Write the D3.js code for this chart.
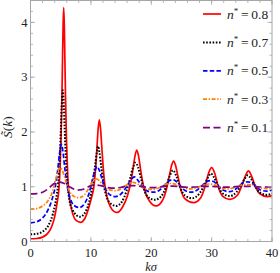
<!DOCTYPE html>
<html>
<head>
<meta charset="utf-8">
<script src="https://cdn.jsdelivr.net/npm/d3@7"></script>
<style>
  body { margin: 0; background: #fff; }
  svg { display: block; }
  text { font-family: "Liberation Serif", "Times New Roman", "DejaVu Serif", serif; }
</style>
</head>
<body>
<div id="chart"></div>
<script>
var width = 280;
var height = 273;
var plotLeft = 30.5, plotRight = 272, plotTop = 0.5, plotBottom = 241.5;

// series (k sigma, S(k))
var k08 = [0, 1, 2, 3, 3.5, 4, 4.4, 4.7, 4.9, 5.05, 5.2, 5.3, 5.4, 5.5, 5.6, 5.7, 5.8, 5.95, 6.1, 6.3, 6.6, 7, 7.6, 8.3, 9, 9.6, 10.1, 10.5, 10.8, 11, 11.2, 11.4, 11.6, 11.8, 12, 12.3, 12.7, 13.2, 13.8, 14.4, 15.2, 16.1, 16.6, 17, 17.3, 17.6, 17.9, 18.2, 18.6, 19.1, 19.7, 20.8, 21.8, 22.5, 23, 23.4, 23.7, 24, 24.4, 24.9, 25.6, 27, 28.2, 28.9, 29.5, 30, 30.5, 31.1, 31.8, 33, 34.3, 35, 35.6, 36.1, 36.6, 37.2, 37.9, 39.2, 40];
var s08 = [0.05, 0.055, 0.08, 0.17, 0.27, 0.45, 0.7, 0.95, 1.35, 1.85, 2.6, 3.3, 3.95, 4.27, 3.95, 3.3, 2.65, 1.9, 1.4, 0.95, 0.7, 0.5, 0.38, 0.35, 0.42, 0.6, 0.8, 1.0, 1.35, 1.7, 2.05, 2.22, 2.06, 1.74, 1.42, 1.05, 0.8, 0.64, 0.55, 0.53, 0.62, 0.85, 1.07, 1.34, 1.56, 1.67, 1.56, 1.34, 1.07, 0.87, 0.74, 0.65, 0.74, 0.95, 1.2, 1.4, 1.47, 1.4, 1.2, 0.95, 0.78, 0.71, 0.8, 1.0, 1.25, 1.35, 1.25, 1.0, 0.83, 0.77, 0.85, 1.02, 1.2, 1.29, 1.2, 1.02, 0.88, 0.82, 0.84];

var k07 = [0, 1, 2, 3, 3.7, 4.2, 4.6, 4.85, 5.05, 5.2, 5.35, 5.5, 5.65, 5.85, 6.1, 6.45, 6.95, 7.6, 8.2, 9, 9.7, 10.3, 10.7, 11, 11.2, 11.4, 11.7, 12.1, 12.6, 13.3, 14.2, 15.1, 15.9, 16.5, 17, 17.4, 17.8, 18.3, 18.9, 19.6, 20.6, 21.6, 22.4, 23, 23.6, 24.2, 24.8, 25.6, 26.8, 28, 28.8, 29.4, 29.9, 30.4, 31, 31.8, 33, 34.1, 34.9, 35.5, 36, 36.5, 37.1, 37.9, 39.2, 40];
var s07 = [0.13, 0.14, 0.18, 0.3, 0.5, 0.75, 1.09, 1.53, 2.1, 2.55, 2.76, 2.55, 2.1, 1.53, 1.09, 0.75, 0.58, 0.48, 0.45, 0.52, 0.72, 1.05, 1.38, 1.64, 1.74, 1.64, 1.38, 1.05, 0.82, 0.69, 0.65, 0.72, 0.92, 1.15, 1.36, 1.44, 1.36, 1.15, 0.92, 0.8, 0.76, 0.82, 0.98, 1.18, 1.3, 1.18, 0.98, 0.84, 0.79, 0.88, 1.03, 1.17, 1.24, 1.17, 1.03, 0.88, 0.83, 0.9, 1.03, 1.15, 1.21, 1.15, 1.03, 0.9, 0.85, 0.88];

var k05 = [0, 1, 2, 3, 3.6, 4.1, 4.5, 4.8, 5.1, 5.4, 5.7, 6.1, 6.6, 7.2, 8.1, 9, 9.7, 10.3, 10.7, 11, 11.4, 11.9, 12.5, 13.2, 14.1, 15, 15.8, 16.5, 17.2, 17.9, 18.6, 19.4, 20.4, 21.4, 22.2, 22.9, 23.5, 24.1, 24.8, 25.6, 26.6, 27.6, 28.5, 29.2, 29.8, 30.4, 31.1, 31.9, 32.9, 33.9, 34.7, 35.4, 36, 36.6, 37.3, 38.1, 39.1, 40];
var s05 = [0.34, 0.36, 0.43, 0.6, 0.78, 1.0, 1.3, 1.6, 1.78, 1.62, 1.32, 1.0, 0.78, 0.66, 0.62, 0.7, 0.88, 1.15, 1.3, 1.37, 1.3, 1.12, 0.95, 0.85, 0.82, 0.87, 0.98, 1.1, 1.18, 1.1, 0.99, 0.92, 0.9, 0.94, 1.03, 1.1, 1.13, 1.1, 1.02, 0.93, 0.9, 0.94, 1.03, 1.09, 1.11, 1.09, 1.02, 0.94, 0.91, 0.95, 1.03, 1.08, 1.09, 1.07, 1.01, 0.94, 0.92, 0.94];

var k03 = [0, 1, 2, 3, 3.6, 4.1, 4.5, 4.9, 5.3, 5.8, 6.4, 7.1, 8, 8.9, 9.7, 10.3, 10.8, 11.4, 12.1, 12.9, 14, 15, 15.9, 16.5, 17, 17.6, 18.4, 19.2, 20.2, 21.3, 22.3, 23.3, 24.2, 25.2, 26.4, 27.5, 28.6, 29.6, 30.6, 31.7, 32.8, 33.9, 35, 36, 37, 38, 39.1, 40];
var s03 = [0.59, 0.6, 0.65, 0.76, 0.9, 1.1, 1.27, 1.35, 1.29, 1.12, 0.93, 0.83, 0.8, 0.85, 0.98, 1.1, 1.15, 1.11, 1.01, 0.95, 0.93, 0.96, 1.03, 1.07, 1.08, 1.06, 1.0, 0.96, 0.95, 0.98, 1.04, 1.06, 1.04, 0.99, 0.96, 0.98, 1.03, 1.05, 1.03, 0.98, 0.96, 0.99, 1.03, 1.04, 1.02, 0.98, 0.965, 0.975];

var k01 = [0, 1, 2, 3, 3.8, 4.7, 5.6, 6.6, 7.7, 8.6, 9.6, 10.6, 11.6, 12.8, 13.9, 15, 16.1, 17, 18, 19.2, 20.2, 21.4, 22.6, 23.6, 24.7, 26, 27.3, 28.6, 29.8, 31, 32.3, 33.5, 34.7, 36, 37.2, 38.5, 40];
var s01 = [0.87, 0.875, 0.9, 0.97, 1.05, 1.09, 1.06, 0.99, 0.94, 0.95, 1.0, 1.035, 1.02, 0.985, 0.975, 0.99, 1.015, 1.02, 1.01, 0.99, 0.985, 0.995, 1.01, 1.012, 1.0, 0.99, 0.995, 1.007, 1.008, 1.0, 0.993, 0.996, 1.005, 1.006, 1.0, 0.995, 0.998];

var densities = ["0.8", "0.7", "0.5", "0.3", "0.1"];
var colors = ["#ff0000", "#000000", "#0000ff", "#ff8000", "#800080"];
var dashes = [null, "1.6,1.6", "4.5,2.2", "4,1.6,1.4,1.6", "7,3.5"];
var xTicks = [0, 10, 20, 30, 40];
var yTicks = [0, 1, 2, 3, 4];

var series = [
  {k: k08, s: s08},
  {k: k07, s: s07},
  {k: k05, s: s05},
  {k: k03, s: s03},
  {k: k01, s: s01}
];

var svg = d3.select("#chart").append("svg")
  .attr("width", width)
  .attr("height", height);

var x = d3.scaleLinear().domain([0, 40]).range([plotLeft, plotRight]);
var y = d3.scaleLinear().domain([0, 4.4]).range([plotBottom, plotTop]);

svg.append("clipPath").attr("id", "clip")
  .append("rect")
  .attr("x", plotLeft).attr("y", plotTop)
  .attr("width", plotRight - plotLeft).attr("height", plotBottom - plotTop);

var line = d3.line()
  .x(function(d) { return x(d[0]); })
  .y(function(d) { return y(d[1]); })
  .curve(d3.curveMonotoneX);

var plot = svg.append("g").attr("clip-path", "url(#clip)");

series.forEach(function(sr, i) {
  var pts = sr.k.map(function(k, j) { return [k, sr.s[j]]; });
  plot.append("path")
    .datum(pts)
    .attr("d", line)
    .attr("fill", "none")
    .attr("stroke", colors[i])
    .attr("stroke-width", i == 1 ? 2 : 1.7)
    .attr("stroke-dasharray", dashes[i]);
});

// frame and ticks (mathematica style, ticks point inward on all four sides)
var frameColor = "#a6a6a6";
var minorX = d3.range(0, 40.01, 2);
var minorY = d3.range(0, 4.41, 0.2);

function tickLines(g, vals, isX, len, side) {
  g.selectAll(null)
    .data(vals)
    .enter()
    .append("line")
    .attr("x1", function(d) { return isX ? x(d) : side; })
    .attr("x2", function(d) { return isX ? x(d) : side + len; })
    .attr("y1", function(d) { return isX ? side : y(d); })
    .attr("y2", function(d) { return isX ? side + len : y(d); })
    .attr("stroke", frameColor)
    .attr("stroke-width", 0.8);
}

var frame = svg.append("g");
tickLines(frame, minorX, true, -2.5, plotBottom);
tickLines(frame, xTicks, true, -4.5, plotBottom);
tickLines(frame, minorX, true, 2.5, plotTop);
tickLines(frame, xTicks, true, 4.5, plotTop);
tickLines(frame, minorY, false, 2.5, plotLeft);
tickLines(frame, yTicks, false, 4.5, plotLeft);
tickLines(frame, minorY, false, -2.5, plotRight);
tickLines(frame, yTicks, false, -4.5, plotRight);

frame.append("rect")
  .attr("x", plotLeft).attr("y", plotTop)
  .attr("width", plotRight - plotLeft).attr("height", plotBottom - plotTop)
  .attr("fill", "none")
  .attr("stroke", frameColor)
  .attr("stroke-width", 1);

svg.selectAll(".xl")
  .data(xTicks)
  .enter()
  .append("text")
  .attr("x", function(d) { return x(d); })
  .attr("y", 257)
  .attr("text-anchor", "middle")
  .attr("font-size", "12.5px")
  .attr("fill", "#222")
  .text(function(d) { return d; });

svg.selectAll(".yl")
  .data(yTicks)
  .enter()
  .append("text")
  .attr("x", 27.5)
  .attr("y", function(d) { return y(d) + 4.3; })
  .attr("text-anchor", "end")
  .attr("font-size", "12.5px")
  .attr("fill", "#222")
  .text(function(d) { return d; });

// axis titles
svg.append("text")
  .attr("x", 151)
  .attr("y", 270.5)
  .attr("text-anchor", "middle")
  .attr("font-size", "12.5px")
  .attr("font-style", "italic")
  .attr("fill", "#222")
  .text("kσ");

var yt = svg.append("text")
  .attr("transform", "translate(12,127) rotate(-90)")
  .attr("text-anchor", "middle")
  .attr("font-size", "13.5px")
  .attr("fill", "#222");
yt.append("tspan").attr("font-style", "italic").text("S\u0303");
yt.append("tspan").text("(");
yt.append("tspan").attr("font-style", "italic").text("k");
yt.append("tspan").text(")");

// legend
var legend = svg.append("g");
densities.forEach(function(d, i) {
  var ly = 14 + i * 28.4;
  legend.append("line")
    .attr("x1", 203).attr("x2", 221)
    .attr("y1", ly).attr("y2", ly)
    .attr("stroke", colors[i])
    .attr("stroke-width", i == 1 ? 2 : 1.7)
    .attr("stroke-dasharray", dashes[i]);
  var t = legend.append("text")
    .attr("x", 227)
    .attr("y", ly + 4.5)
    .attr("font-size", "13.5px")
    .attr("fill", "#222");
  t.append("tspan").attr("font-style", "italic").text("n");
  t.append("tspan").attr("dy", -5).attr("font-size", "9px").text("*");
  t.append("tspan").attr("dy", 5).text("\u2009=\u2009" + d);
});
</script>
</body>
</html>
